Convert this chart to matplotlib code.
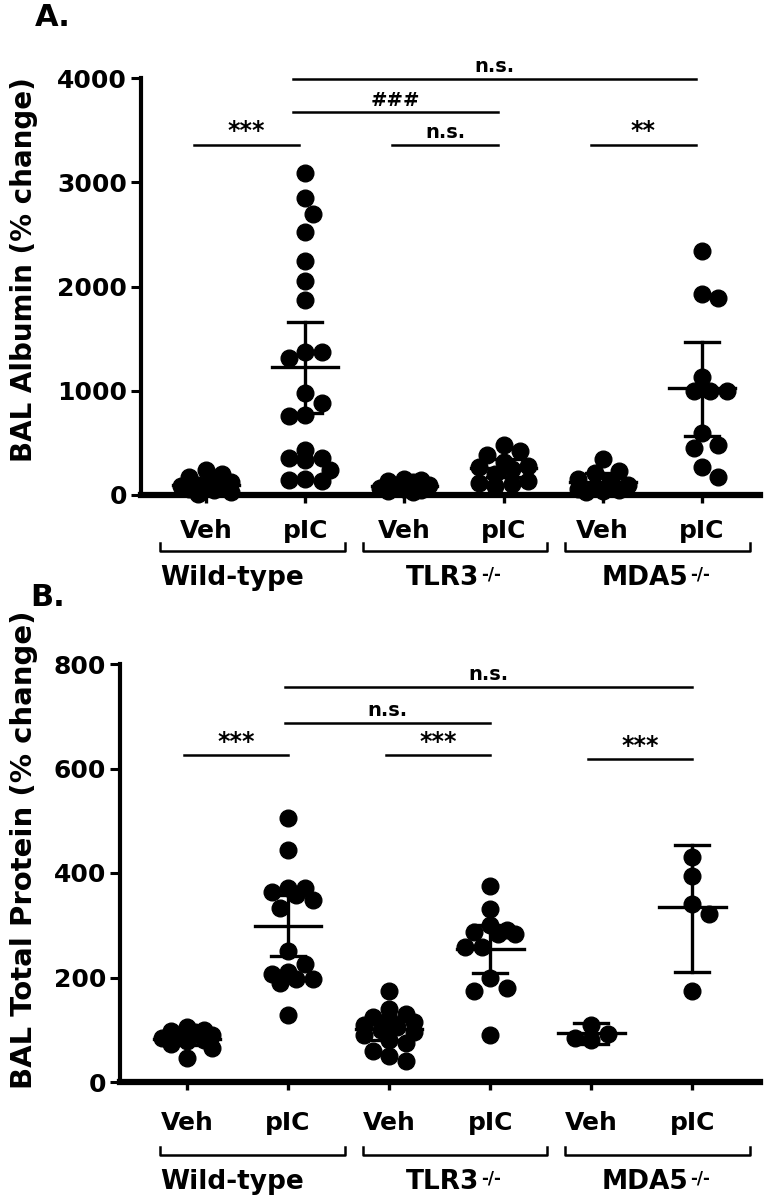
import matplotlib.pyplot as plt
import matplotlib.transforms as mtransforms
import numpy as np

plt.rcParams['font.family'] = 'DejaVu Sans'
plt.rcParams['font.weight'] = 'bold'
plt.rcParams['axes.labelweight'] = 'bold'

# group / treatment labels
groups = ['Wild-type', 'TLR3', 'MDA5']
group_sup = ['', '-/-', '-/-']
treatments = ['Veh', 'pIC']

# Panel A: BAL albumin (% change), one list per column
alb_wt_veh = [240, 200, 170, 150, 120, 100, 90, 80, 70, 60, 50, 30, 10]
alb_wt_pic = [3090, 2850, 2700, 2525, 2243, 2055, 1870, 1374, 1368, 1310, 981, 879,
              767, 757, 431, 352, 352, 336, 240, 150, 144, 137]
alb_tlr3_veh = [150, 140, 130, 120, 100, 90, 70, 60, 50, 40, 30]
alb_tlr3_pic = [480, 420, 385, 320, 280, 265, 250, 200, 130, 115, 110, 90]
alb_mda5_veh = [350, 230, 210, 150, 130, 100, 80, 60, 50, 40, 30]
alb_mda5_pic = [2339, 1924, 1892, 1134, 997, 997, 997, 591, 479, 454, 265, 176]
alb_mean = [100, 1230, 85, 255, 128, 1023]
alb_lo = [60, 789, 60, 176, 60, 569]
alb_hi = [140, 1656, 110, 345, 210, 1464]

# Panel B: BAL total protein (% change)
tp_wt_veh = [105, 100, 98, 95, 90, 88, 85, 80, 78, 72, 65, 45]
tp_wt_pic = [506, 444, 372, 372, 364, 358, 348, 333, 251, 225, 211, 206, 198, 198, 190, 128]
tp_tlr3_veh = [175, 140, 130, 125, 120, 115, 110, 105, 100, 95, 90, 80, 75, 60, 50, 40]
tp_tlr3_pic = [375, 332, 300, 291, 287, 284, 284, 259, 259, 199, 180, 175, 90]
tp_mda5_veh = [110, 92, 85, 80]
tp_mda5_pic = [430, 394, 340, 321, 175]
tp_mean = [82, 299, 101, 254, 94, 334]
tp_lo = [70, 241, 80, 208, 72, 210]
tp_hi = [95, 358, 123, 300, 112, 453]

# significance bars: (column 1, column 2, height, label)
sig_a = [(0, 1, 3360, '***'), (1, 3, 3670, '###'), (1, 5, 3995, 'n.s.'),
         (2, 3, 3360, 'n.s.'), (4, 5, 3360, '**')]
sig_b = [(0, 1, 625, '***'), (1, 3, 687, 'n.s.'), (1, 5, 756, 'n.s.'),
         (2, 3, 625, '***'), (4, 5, 618, '***')]

W, H = 773, 1198
fig = plt.figure(figsize=(W / 100, H / 100), dpi=100)

# group brackets (figure pixels) and label centres
bracket_px = [(160, 345), (363, 547), (565, 750)]
label_px = [232, 443, 645]


def px_axes(left, right, top, bottom):
    return fig.add_axes([left / W, 1 - bottom / H, (right - left) / W, (bottom - top) / H])


def swarm_x(ax, x0, vals, diam):
    # simple beeswarm in pixel space
    tr = ax.transData
    cx = tr.transform((x0, 0))[0]
    unit = tr.transform((x0 + 1, 0))[0] - cx
    ys = np.array([tr.transform((x0, v))[1] for v in vals])
    step = diam / 2
    cands = [0]
    for k in range(1, 4):
        cands += [k * step, -k * step]
    placed = []
    offs = np.zeros(len(vals))
    for i in np.argsort(ys)[::-1]:
        best, bestd = 0, -1
        for c in cands:
            d = min([np.hypot(c - px, ys[i] - py) for px, py in placed], default=1e9)
            if d >= diam * 0.97:
                best = c
                break
            if d > bestd:
                best, bestd = c, d
        placed.append((best, ys[i]))
        offs[i] = best
    return x0 + offs / unit


def draw_panel(ax, cols, means, los, his, sigs, ymax, yticks, xlim, sig_dx, yb, yg, pad):
    ax.set_xlim(*xlim)
    ax.set_ylim(0, ymax)
    for i, vals in enumerate(cols):
        xs = swarm_x(ax, i, vals, 16.5)
        ax.plot(xs, vals, 'o', color='black', ms=12, mec='black', zorder=3, clip_on=False)
        ax.plot([i - 0.33, i + 0.33], [means[i]] * 2, color='black', lw=2.4, zorder=4)
        ax.plot([i, i], [los[i], his[i]], color='black', lw=2.4, zorder=4)
        for e in (los[i], his[i]):
            ax.plot([i - 0.17, i + 0.17], [e, e], color='black', lw=2.4, zorder=4)
    for a, b, y, s in sigs:
        x1, x2 = a + sig_dx[0], b + sig_dx[1]
        ax.plot([x1, x2], [y, y], color='black', lw=1.8, clip_on=False)
        fs = 17 if '*' in s else 14
        ax.annotate(s, xy=((x1 + x2) / 2, y), xytext=(0, 1 if '*' in s else 2),
                    textcoords='offset points', ha='center', va='bottom', fontsize=fs,
                    annotation_clip=False)
    for sp in ['top', 'right']:
        ax.spines[sp].set_visible(False)
    ax.spines['left'].set_linewidth(3)
    ax.spines['bottom'].set_linewidth(4.5)
    ax.set_yticks(yticks)
    ax.set_yticklabels([str(t) for t in yticks], fontsize=18)
    ax.set_xticks(range(6))
    ax.set_xticklabels(treatments * 3, fontsize=18)
    ax.tick_params(axis='y', length=7, width=2.2, pad=3)
    ax.tick_params(axis='x', length=6, width=2.4, pad=pad)
    # group brackets and labels under the tick labels
    tr = mtransforms.blended_transform_factory(fig.transFigure, ax.transAxes)
    for g, name in enumerate(groups):
        x1, x2 = bracket_px[g][0] / W, bracket_px[g][1] / W
        ax.plot([x1, x1, x2, x2], [yb + 0.02, yb, yb, yb + 0.02], color='black',
                lw=1.8, transform=tr, clip_on=False)
        t = ax.text(label_px[g] / W, yg, name, transform=tr, ha='center', va='center',
                    fontsize=19)
        if group_sup[g]:
            ax.annotate(group_sup[g], xy=(1.0, 0.98), xycoords=t, xytext=(1, 0),
                        textcoords='offset points', ha='left', va='top', fontsize=12)


axA = px_axes(141, 760, 78, 495)
draw_panel(axA, [alb_wt_veh, alb_wt_pic, alb_tlr3_veh, alb_tlr3_pic, alb_mda5_veh, alb_mda5_pic],
           alb_mean, alb_lo, alb_hi, sig_a, 4000, [0, 1000, 2000, 3000, 4000],
           (-0.655, 5.585), (-0.12, -0.06), -0.135, -0.198, 11)
axA.set_ylabel('BAL Albumin (% change)', fontsize=20)
axA.yaxis.set_label_coords(-0.166, 0.54)

axB = px_axes(120, 760, 664, 1082)
draw_panel(axB, [tp_wt_veh, tp_wt_pic, tp_tlr3_veh, tp_tlr3_pic, tp_mda5_veh, tp_mda5_pic],
           tp_mean, tp_lo, tp_hi, sig_b, 800, [0, 200, 400, 600, 800],
           (-0.663, 5.67), (-0.03, 0.0), -0.175, -0.24, 15)
axB.set_ylabel('BAL Total Protein (% change)', fontsize=21)
axB.yaxis.set_label_coords(-0.128, 0.555)

fig.text(35 / W, 1 - 18 / H, 'A.', fontsize=22, ha='left', va='center')
fig.text(30 / W, 1 - 597 / H, 'B.', fontsize=22, ha='left', va='center')

fig.savefig('out.png', dpi=100)
